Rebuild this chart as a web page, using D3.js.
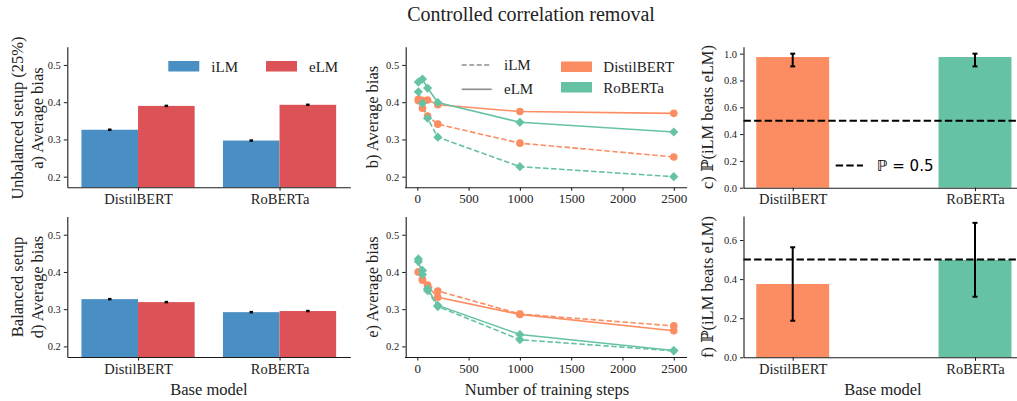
<!DOCTYPE html>
<html><head><meta charset="utf-8">
<script src="https://cdn.jsdelivr.net/npm/d3@7"></script>
<style>
html,body{margin:0;padding:0;background:#fff;}
svg{display:block;}
text{font-family:"Liberation Serif","DejaVu Serif",serif;fill:#222;}
</style></head>
<body>
<svg id="chart" width="1017" height="401" font-family="Liberation Serif"></svg>
<script>
// ---------- DATA ----------
const models = ["DistilBERT", "RoBERTa"];
const lmTypes = ["iLM", "eLM"];
const biasTicks = [0.2, 0.3, 0.4, 0.5];
const stepTicks = [0, 500, 1000, 1500, 2000, 2500];
const probTicksC = [0.0, 0.2, 0.4, 0.6, 0.8, 1.0];
const probTicksF = [0.0, 0.2, 0.4, 0.6];

// a) unbalanced setup, average bias per base model
const unbalILM = [0.326, 0.297];
const unbalELM = [0.390, 0.393];
const unbalILMErr = [0.002, 0.002];
const unbalELMErr = [0.002, 0.002];
// d) balanced setup
const balILM = [0.327, 0.292];
const balELM = [0.319, 0.295];
const balILMErr = [0.002, 0.002];
const balELMErr = [0.002, 0.002];

// b) / e) average bias vs number of training steps
const steps = [10, 50, 100, 200, 1000, 2500];
const unbalDistilILM  = [0.404, 0.384, 0.363, 0.341, 0.290, 0.253];
const unbalDistilELM  = [0.408, 0.405, 0.406, 0.393, 0.375, 0.370];
const unbalRobertaILM = [0.428, 0.397, 0.357, 0.306, 0.227, 0.200];
const unbalRobertaELM = [0.454, 0.462, 0.438, 0.399, 0.346, 0.320];
const balDistilILM    = [0.400, 0.380, 0.365, 0.349, 0.287, 0.255];
const balDistilELM    = [0.400, 0.378, 0.362, 0.332, 0.286, 0.242];
const balRobertaILM   = [0.435, 0.404, 0.350, 0.307, 0.218, 0.188];
const balRobertaELM   = [0.428, 0.393, 0.355, 0.310, 0.232, 0.189];

// c) / f) probability iLM beats eLM
const probUnbal   = [0.975, 0.975];
const probUnbalLo = [0.905, 0.905];
const probUnbalHi = [1.000, 1.000];
const probBal     = [0.375, 0.498];
const probBalLo   = [0.187, 0.310];
const probBalHi   = [0.563, 0.688];
const chanceLevel = 0.5;

// ---------- STYLE ----------
const C_ILM = "#4a8fc4", C_ELM = "#dd5257";
const C_MODEL = ["#fc8d62", "#66c2a5"];
const INK = "#1a1a1a";
const SERIF = '"Liberation Serif","DejaVu Serif",serif';

const svg = d3.select("#chart");

// title
svg.append("text").attr("x", 531).attr("y", 21).attr("text-anchor", "middle")
  .style("font-size", "20px").style("font-family", SERIF).text("Controlled correlation removal");

function leftAxis(y, x0, ticks, fmt) {
  const g = svg.append("g").attr("transform", `translate(${x0},0)`)
    .call(d3.axisLeft(y).tickValues(ticks).tickFormat(fmt).tickSize(3.5).tickPadding(3).tickSizeOuter(0));
  g.select(".domain").attr("stroke", INK).attr("stroke-width", 1.1);
  g.selectAll(".tick line").attr("stroke", INK);
  g.selectAll(".tick text").style("font-size", "10.5px").style("font-family", SERIF).attr("fill", "#222");
  return g;
}
function bottomAxis(x, y0, ticks, fmt, fs) {
  const g = svg.append("g").attr("transform", `translate(0,${y0})`)
    .call(d3.axisBottom(x).tickValues(ticks).tickFormat(fmt).tickSize(3.5).tickPadding(3).tickSizeOuter(0));
  g.select(".domain").attr("stroke", INK).attr("stroke-width", 1.1);
  g.selectAll(".tick line").attr("stroke", INK);
  g.selectAll(".tick text").style("font-size", fs).style("font-family", SERIF).attr("fill", "#222");
  return g;
}
function yLabel(lines, cx, cy, fs) {
  const t = svg.append("text").attr("transform", `translate(${cx},${cy}) rotate(-90)`)
    .attr("text-anchor", "middle").style("font-size", fs).style("font-family", SERIF);
  lines.forEach((l, i) => {
    t.append("tspan").attr("x", 0).attr("dy", i === 0 ? (-(lines.length - 1) * 10 + 5) + "px" : "20px").text(l);
  });
}
function xLabel(txt, cx, cy) {
  svg.append("text").attr("x", cx).attr("y", cy).attr("text-anchor", "middle")
    .style("font-size", "16.5px").style("font-family", SERIF).text(txt);
}

const fmt1 = d3.format(".1f");
const catFmt = i => models[i];

// ---------- PANELS a & d : grouped bars ----------
const xCat = d3.scaleLinear().domain([-0.5, 1.5]).range([67.3, 350.3]);
const yBiasTop = d3.scaleLinear().domain([0.1715, 0.549]).range([187.3, 46.7]);
const yBiasBot = d3.scaleLinear().domain([0.1715, 0.549]).range([357, 216.5]);

function groupedBars(y, ilm, elm, ilmErr, elmErr) {
  const g = svg.append("g");
  const series = [[ilm, ilmErr, C_ILM, -0.2], [elm, elmErr, C_ELM, 0.2]];
  series.forEach(([vals, errs, col, off]) => {
    vals.forEach((v, i) => {
      const xl = xCat(i + off - 0.2), xr = xCat(i + off + 0.2);
      g.append("rect").attr("x", xl).attr("width", xr - xl)
        .attr("y", y(v)).attr("height", y.range()[0] - y(v)).attr("fill", col);
    });
  });
  series.forEach(([vals, errs, col, off]) => {
    vals.forEach((v, i) => {
      const xc = xCat(i + off);
      g.append("line").attr("x1", xc).attr("x2", xc).attr("y1", y(v - errs[i]) + 0.5).attr("y2", y(v + errs[i]) - 0.5)
        .attr("stroke", "#000").attr("stroke-width", 3.5);
    });
  });
}
groupedBars(yBiasTop, unbalILM, unbalELM, unbalILMErr, unbalELMErr);
groupedBars(yBiasBot, balILM, balELM, balILMErr, balELMErr);
leftAxis(yBiasTop, 67.3, biasTicks, fmt1);
leftAxis(yBiasBot, 67.3, biasTicks, fmt1);
bottomAxis(xCat, 187.3, [0, 1], catFmt, "14.5px");
bottomAxis(xCat, 357, [0, 1], catFmt, "14.5px");

// legend a
[["iLM", C_ILM, 168.3], ["eLM", C_ELM, 266]].forEach(([lab, col, lx]) => {
  svg.append("rect").attr("x", lx).attr("y", 61).attr("width", 31).attr("height", 10.5).attr("fill", col);
  svg.append("text").attr("x", lx + 43).attr("y", 71.5).style("font-size", "15px").style("font-family", SERIF).text(lab);
});

yLabel(["Unbalanced setup (25%)", "a) Average bias"], 28, 118, "16.5px");
yLabel(["Balanced setup", "d) Average bias"], 28, 287, "16.5px");
xLabel("Base model", 209, 395);

// ---------- PANELS b & e : lines ----------
const xSteps = d3.scaleLinear().domain([-125, 2625]).range([404.5, 686.6]);
const lineGen = y => d3.line().x((d, i) => xSteps(steps[i])).y(d => y(d));

function diamond(r) { return `M0,${-r}L${r},0L0,${r}L${-r},0Z`; }

function linePanel(y, distIlm, distElm, robIlm, robElm) {
  const g = svg.append("g");
  const ser = [
    [distElm, 0, null], [distIlm, 0, "5.5,2.5"],
    [robElm, 1, null], [robIlm, 1, "5.5,2.5"]
  ];
  ser.forEach(([vals, m, dash]) => {
    g.append("path").datum(vals).attr("d", lineGen(y)).attr("fill", "none")
      .attr("stroke", C_MODEL[m]).attr("stroke-width", 1.6)
      .attr("stroke-dasharray", dash);
  });
  ser.forEach(([vals, m]) => {
    vals.forEach((v, i) => {
      if (m === 0) {
        g.append("circle").attr("cx", xSteps(steps[i])).attr("cy", y(v)).attr("r", 3.8).attr("fill", C_MODEL[m]);
      } else {
        g.append("path").attr("d", diamond(4.6)).attr("transform", `translate(${xSteps(steps[i])},${y(v)})`).attr("fill", C_MODEL[m]);
      }
    });
  });
}
linePanel(yBiasTop, unbalDistilILM, unbalDistilELM, unbalRobertaILM, unbalRobertaELM);
linePanel(yBiasBot, balDistilILM, balDistilELM, balRobertaILM, balRobertaELM);
leftAxis(yBiasTop, 405.7, biasTicks, fmt1);
leftAxis(yBiasBot, 405.7, biasTicks, fmt1);
bottomAxis(xSteps, 187.3, stepTicks, d3.format("d"), "13px");
bottomAxis(xSteps, 357, stepTicks, d3.format("d"), "13px");

// legend b
[["iLM", "5,2.5", 65], ["eLM", null, 89.3]].forEach(([lab, dash, ly]) => {
  svg.append("line").attr("x1", 461.7).attr("x2", 491.7).attr("y1", ly).attr("y2", ly)
    .attr("stroke", "#8c8c8c").attr("stroke-width", 1.6).attr("stroke-dasharray", dash);
  svg.append("text").attr("x", 504).attr("y", ly + 5).style("font-size", "15px").style("font-family", SERIF).text(lab);
});
models.forEach((lab, i) => {
  const ly = 61.5 + i * 20.5;
  svg.append("rect").attr("x", 561).attr("y", ly).attr("width", 31).attr("height", 10.5).attr("fill", C_MODEL[i]);
  svg.append("text").attr("x", 603.3).attr("y", ly + 10.5).style("font-size", "15px").style("font-family", SERIF).text(lab);
});

yLabel(["b) Average bias"], 373, 117, "16.5px");
yLabel(["e) Average bias"], 373, 287, "16.5px");
xLabel("Number of training steps", 547, 395);

// ---------- PANELS c & f : probability bars ----------
const xProb = d3.scaleLinear().domain([-0.27, 1.27]).range([743.5, 1024.2]);
const yProbTop = d3.scaleLinear().domain([0, 1.052]).range([187.7, 46.7]);
const yProbBot = d3.scaleLinear().domain([0, 0.723]).range([357.3, 216]);

function probPanel(y, vals, lo, hi) {
  const g = svg.append("g");
  vals.forEach((v, i) => {
    const xl = xProb(i - 0.2), xr = xProb(i + 0.2);
    g.append("rect").attr("x", xl).attr("width", xr - xl).attr("y", y(v))
      .attr("height", y(0) - y(v)).attr("fill", C_MODEL[i]);
  });
  g.append("line").attr("x1", xProb.range()[0]).attr("x2", 1017)
    .attr("y1", y(chanceLevel)).attr("y2", y(chanceLevel))
    .attr("stroke", "#000").attr("stroke-width", 2).attr("stroke-dasharray", "7.4,3.2");
  vals.forEach((v, i) => {
    const xc = xProb(i);
    g.append("line").attr("x1", xc).attr("x2", xc).attr("y1", y(lo[i])).attr("y2", y(hi[i]))
      .attr("stroke", "#000").attr("stroke-width", 2);
    [lo[i], hi[i]].forEach(e => {
      g.append("line").attr("x1", xc - 2.5).attr("x2", xc + 2.5).attr("y1", y(e)).attr("y2", y(e))
        .attr("stroke", "#000").attr("stroke-width", 2);
    });
  });
}
probPanel(yProbTop, probUnbal, probUnbalLo, probUnbalHi);
probPanel(yProbBot, probBal, probBalLo, probBalHi);
leftAxis(yProbTop, 743.5, probTicksC, fmt1);
leftAxis(yProbBot, 743.5, probTicksF, fmt1);
bottomAxis(xProb, 187.7, [0, 1], catFmt, "14.5px");
bottomAxis(xProb, 357.3, [0, 1], catFmt, "14.5px");

// legend c
svg.append("line").attr("x1", 835.7).attr("x2", 863).attr("y1", 165.5).attr("y2", 165.5)
  .attr("stroke", "#000").attr("stroke-width", 2).attr("stroke-dasharray", "7.4,3.2");
svg.append("text").attr("x", 877).attr("y", 171).style("font-size", "15px")
  .style("font-family", '"DejaVu Sans",sans-serif').style("fill", "#000").text("ℙ = 0.5");

yLabel(["c) ℙ(iLM beats eLM)"], 708, 117, "16.5px");
yLabel(["f) ℙ(iLM beats eLM)"], 708, 287, "16.5px");
xLabel("Base model", 883, 395);
</script>
</body></html>
